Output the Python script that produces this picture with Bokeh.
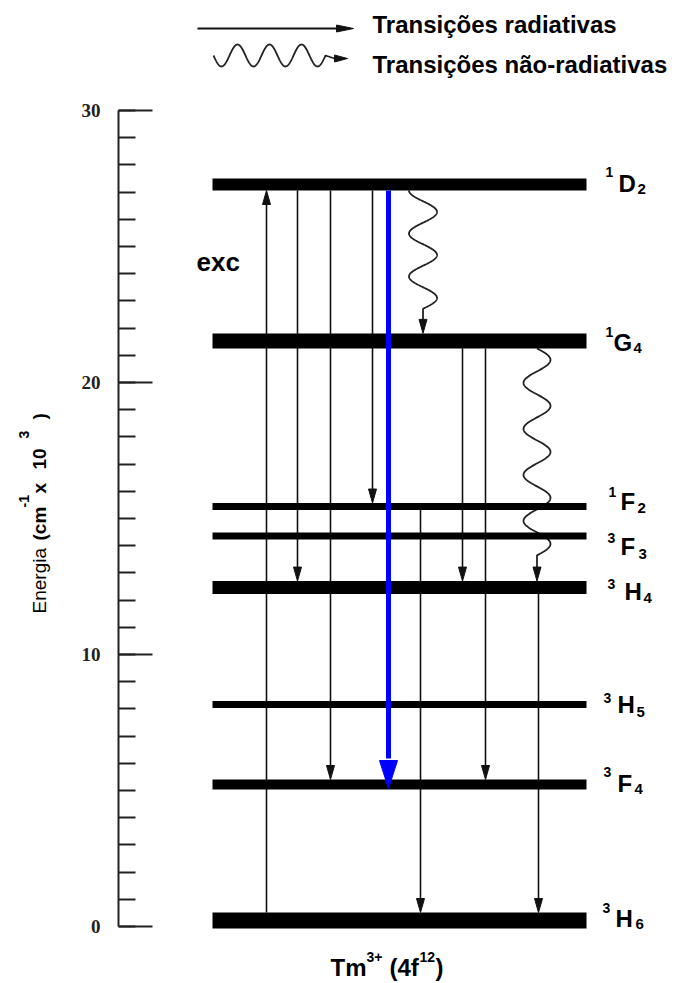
import math
import numpy as np
from bokeh.plotting import figure
from bokeh.models import Range1d, SingleIntervalTicker, ColumnDataSource
from bokeh.core.properties import value
from bokeh.embed import file_html
from bokeh.resources import INLINE

# ---------------- data ----------------
level_names = ["3H6", "3F4", "3H5", "3H4", "3F3", "1F2", "1G4", "1D2"]
level_energy = [0.22, 5.22, 8.16, 12.46, 14.36, 15.44, 21.53, 27.28]  # x10^3 cm^-1

rad_from = ["3H6", "1D2", "1D2", "1D2", "1F2", "1G4", "1G4", "3H4"]
rad_to = ["1D2", "3H4", "3F4", "1F2", "3H6", "3H4", "3F4", "3H6"]
main_from, main_to = "1D2", "3F4"          # highlighted emission
nonrad_from = ["1D2", "1G4"]
nonrad_to = ["1G4", "3H4"]

axis_bounds = (0, 30)
axis_major = 10
ion_label = [("Tm", "main"), ("3+", "sup"), ("(4f", "main"), ("12", "sup"), (")", "main")]
legend_texts = ["Transições radiativas", "Transições não-radiativas"]
exc_text = "exc"
ytitle_parts = [("Energia", "main", "normal"), ("(cm", "main", "bold"), ("-1", "sup", "bold"),
                ("x", "main", "bold"), ("10", "main", "bold"), ("3", "sup", "bold"),
                (")", "main", "bold")]

# ---------------- layout (page pixels) ----------------
W, H = 675, 983
LEVEL_X0_PX = 212.0     # px of level start
SX = 374.0              # px per diagram x-unit (level length)
ZERO_PX = 926.0         # px of energy 0
SY = 27.2               # px per 1000 cm^-1
AXIS_PX = 118
SHIFT = 0.36            # em: measured extra drop of alphabetic baseline in rendering


def X(px):
    return (np.asarray(px, dtype=float) - LEVEL_X0_PX) / SX


def Y(py):
    return (ZERO_PX - np.asarray(py, dtype=float)) / SY


E = dict(zip(level_names, level_energy))
thick = {"3H6": 16, "3F4": 10, "3H5": 7, "3H4": 13, "3F3": 7, "1F2": 7, "1G4": 15, "1D2": 12}
rad_slot_px = [266, 297, 330, 372, 420, 462, 485, 538]
main_slot_px = 388
nonrad_wave = [dict(xc=422.5, amp=14, period=43, n=2.75, kind="cos"),
               dict(xc=536.5, amp=13.5, period=46, n=4.5, kind="sin")]
HEAD_W, HEAD_L = 8, 14
BLUE = "#0000ff"
INK = "#111111"
SANS = "Liberation Sans"

# label offsets (px from bar end / bar centre): sup, main, sub
lab_off = {
    "1D2": [(19, -7), (32, 8), (51, 10)],
    "1G4": [(19, -3.5), (27, 10.5), (47, 13)],
    "1F2": [(22, -9), (34, 4), (51, 7)],
    "3F3": [(21, 7.5), (34, 19.5), (52, 23)],
    "3H4": [(21, 1), (38, 13), (57, 16)],
    "3H5": [(17, -2), (31, 9), (50, 13)],
    "3F4": [(17, -7), (31, 8), (48, 10)],
    "3H6": [(16, -7), (29, 7), (49, 9)],
}
# ion label pieces: start x (px)
ion_x = [330, 366, 389, 419, 435]
# rotated axis title pieces: start y (px, text reads upward)
ytitle_y = [613, 540, 507, 493, 469, 438, 419]

p = figure(width=W, height=H,
           x_range=Range1d(float(X(0)), float(X(W))), y_range=Range1d(float(Y(H)), float(Y(0))),
           output_backend="svg", toolbar_location=None,
           x_axis_location=None, y_axis_location="left",
           min_border_left=0, min_border_right=0, min_border_top=0, min_border_bottom=0)
p.outline_line_color = None
p.grid.visible = False
p.background_fill_color = "white"
p.border_fill_color = "white"

ax = p.yaxis[0]
ax.fixed_location = float(X(AXIS_PX))
ax.ticker = SingleIntervalTicker(interval=axis_major, num_minor_ticks=10)
ax.bounds = axis_bounds
ax.major_tick_in = 34
ax.major_tick_out = 0
ax.minor_tick_in = 17
ax.minor_tick_out = 0
ax.axis_line_width = 2
ax.axis_line_color = "#222222"
ax.major_tick_line_width = 2
ax.minor_tick_line_width = 2
ax.major_tick_line_color = "#222222"
ax.minor_tick_line_color = "#222222"
ax.major_label_text_font = "Liberation Serif"
ax.major_label_text_font_style = "bold"
ax.major_label_text_font_size = "19px"
ax.major_label_text_color = "#222222"
ax.major_label_standoff = 18


def head_v(x, tip, direction, w=HEAD_W, l=HEAD_L):
    base = tip - direction * l / SY
    return [x - w / 2 / SX, x + w / 2 / SX, x], [base, base, tip], base


def head_h(xt, yt, w, l):
    return [xt - l / SX, xt - l / SX, xt], [yt + w / 2 / SY, yt - w / 2 / SY, yt]


def txt(xp, yp, s, size, style="bold", angle=0.0):
    """text with its alphabetic baseline at page pixel (xp, yp)"""
    if angle:
        xp = xp - SHIFT * size
    else:
        yp = yp - SHIFT * size
    p.text(x=[float(X(xp))], y=[float(Y(yp))], text=[s], angle=angle,
           text_font=value(SANS), text_font_style=style, text_font_size=f"{size}px",
           text_baseline="alphabetic", text_align="left", text_color="black")


# ---- radiative arrows ----
lx0, ly0, lx1, ly1, hxs, hys = [], [], [], [], [], []
for f, t, slot in zip(rad_from, rad_to, rad_slot_px):
    x = float(X(slot))
    d = 1 if E[t] > E[f] else -1
    start = E[f] + d * thick[f] / 2 / SY
    tip = E[t] - d * thick[t] / 2 / SY
    hx, hy, base = head_v(x, tip, d)
    lx0.append(x); ly0.append(start); lx1.append(x); ly1.append(base)
    hxs.append(hx); hys.append(hy)
p.segment(x0=lx0, y0=ly0, x1=lx1, y1=ly1, line_color=INK, line_width=1.6)
p.patches(xs=hxs, ys=hys, fill_color=INK, line_color=INK, line_width=1)

# ---- non-radiative (wavy) arrows ----
for f, t, wp in zip(nonrad_from, nonrad_to, nonrad_wave):
    start = E[f] - thick[f] / 2 / SY
    tt = np.linspace(0, wp["n"] * wp["period"], 400)
    ph = 2 * np.pi * tt / wp["period"]
    dx = -np.cos(ph) if wp["kind"] == "cos" else np.sin(ph)
    xc = float(X(wp["xc"]))
    xs = xc + wp["amp"] * dx / SX
    ys = start - tt / SY
    tip = E[t] + thick[t] / 2 / SY
    hx, hy, base = head_v(xc, tip, -1)
    p.line(list(xs) + [xc], list(ys) + [base], line_color="#222222", line_width=1.8)
    p.patch(hx, hy, fill_color=INK, line_color=INK)

# ---- levels ----
src = ColumnDataSource(dict(x0=[0.0] * len(level_names), x1=[1.0] * len(level_names),
                            y=level_energy, w=[thick[n] for n in level_names]))
p.segment(x0="x0", x1="x1", y0="y", y1="y", line_width="w", line_color="black", source=src)

# ---- highlighted emission (blue) ----
bx = float(X(main_slot_px))
b_start = E[main_from] - thick[main_from] / 2 / SY
b_tip = E[main_to] - 4 / SY
bhx, bhy, bbase = head_v(bx, b_tip, -1, w=18, l=28)
p.segment(x0=[bx], y0=[b_start], x1=[bx], y1=[bbase + 2 / SY], line_color=BLUE, line_width=5)
p.patch(bhx, bhy, fill_color=BLUE, line_color=BLUE)

# ---- level labels ----
for part, size in zip(range(3), [14, 24, 15]):
    xs, ys, tx, xo, yo = [], [], [], [], []
    for n in level_names:
        xs.append(1.0); ys.append(E[n]); tx.append(n[part])
        xo.append(lab_off[n][part][0]); yo.append(lab_off[n][part][1] - SHIFT * size)
    p.text(x=xs, y=ys, text=tx, x_offset=xo, y_offset=yo,
           text_font=value(SANS), text_font_style="bold", text_font_size=f"{size}px",
           text_baseline="alphabetic", text_align="left", text_color="black")

# ---- exc ----
txt(196, 271, exc_text, 26)

# ---- bottom ion label ----
for (s, kind), xp in zip(ion_label, ion_x):
    size = 24 if kind == "main" else 14
    by = 976 if kind == "main" else 962
    txt(xp, by, s, size)

# ---- legend ----
p.segment(x0=[float(X(197))], y0=[float(Y(28))], x1=[float(X(353 - 15))], y1=[float(Y(28))],
          line_color=INK, line_width=2)
hx, hy = head_h(float(X(353)), float(Y(28)), 7, 17)
p.patch(hx, hy, fill_color=INK, line_color=INK)
lxp = np.linspace(213, 325, 300)
lyp = 55 + 11 * np.sin(2 * np.pi * (lxp - 213) / 32)
p.line(list(X(lxp)) + [float(X(334))], list(Y(lyp)) + [float(Y(58))],
       line_color="#222222", line_width=1.8)
hx, hy = head_h(float(X(347)), float(Y(58)), 7, 13)
p.patch(hx, hy, fill_color=INK, line_color=INK)
for s, by in zip(legend_texts, [33, 73]):
    txt(372, by, s, 24)

# ---- y axis title (rotated pieces, reading upward) ----
for (s, kind, style), ty in zip(ytitle_parts, ytitle_y):
    size = 19 if kind == "main" else 14
    bxp = 46 if kind == "main" else 29
    txt(bxp, ty, s, size, style=style, angle=math.pi / 2)

open("out.html", "w").write(file_html(p, INLINE))
